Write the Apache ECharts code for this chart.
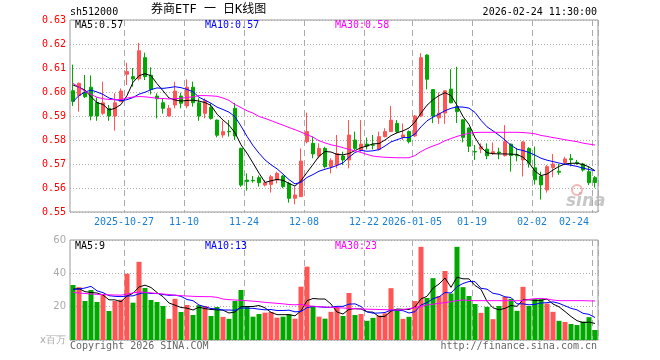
<!DOCTYPE html>
<html><head><meta charset="utf-8">
<script src="https://cdn.jsdelivr.net/npm/echarts@6/dist/echarts.min.js"></script>
<style>html,body{margin:0;padding:0;background:#fff}#c{width:660px;height:360px}</style>
</head><body><div id="c"></div>
<script>
const dates = [
'2025-10-14','2025-10-15','2025-10-16','2025-10-17',
'2025-10-20','2025-10-21','2025-10-22','2025-10-23','2025-10-24',
'2025-10-27','2025-10-28','2025-10-29','2025-10-30','2025-10-31',
'2025-11-03','2025-11-04','2025-11-05','2025-11-06','2025-11-07',
'2025-11-10','2025-11-11','2025-11-12','2025-11-13','2025-11-14',
'2025-11-17','2025-11-18','2025-11-19','2025-11-20','2025-11-21',
'2025-11-24','2025-11-25','2025-11-26','2025-11-27','2025-11-28',
'2025-12-01','2025-12-02','2025-12-03','2025-12-04','2025-12-05',
'2025-12-08','2025-12-09','2025-12-10','2025-12-11','2025-12-12',
'2025-12-15','2025-12-16','2025-12-17','2025-12-18','2025-12-19',
'2025-12-22','2025-12-23','2025-12-24','2025-12-25','2025-12-26',
'2025-12-29','2025-12-30','2025-12-31',
'2026-01-05','2026-01-06','2026-01-07','2026-01-08','2026-01-09',
'2026-01-12','2026-01-13','2026-01-14','2026-01-15','2026-01-16',
'2026-01-19','2026-01-20','2026-01-21','2026-01-22','2026-01-23',
'2026-01-26','2026-01-27','2026-01-28','2026-01-29','2026-01-30',
'2026-02-02','2026-02-03','2026-02-04','2026-02-05','2026-02-06',
'2026-02-09','2026-02-10','2026-02-11','2026-02-12','2026-02-13',
'2026-02-24'];

const opens = [0.6005,0.5985,0.6000,0.6020,0.5956,0.5911,0.5932,0.5900,0.5960,0.6074,
0.6064,0.6055,0.6143,0.6070,0.5983,0.5955,0.5900,0.5946,0.5983,0.5942,
0.6020,0.5955,0.5911,0.5936,0.5883,0.5821,0.5836,0.5932,0.5765,0.5633,
0.5632,0.5643,0.5612,0.5615,0.5633,0.5650,0.5619,0.5557,0.5564,0.5793,
0.5786,0.5733,0.5765,0.5689,0.5696,0.5733,0.5717,0.5800,0.5758,0.5783,
0.5780,0.5761,0.5814,0.5835,0.5869,0.5811,0.5835,0.5817,0.5900,0.6154,
0.6010,0.5892,0.5912,0.6012,0.5940,0.5884,0.5850,0.5752,0.5762,0.5762,
0.5744,0.5750,0.5735,0.5783,0.5737,0.5717,0.5765,0.5684,0.5650,0.5592,
0.5685,0.5670,0.5706,0.5722,0.5707,0.5700,0.5668,0.5643];
const closes = [0.5961,0.6036,0.5980,0.5900,0.5900,0.5955,0.5900,0.5955,0.6004,0.6085,
0.6054,0.6172,0.6064,0.6010,0.5972,0.5932,0.5932,0.6004,0.5953,0.6020,
0.5955,0.5900,0.5964,0.5890,0.5820,0.5835,0.5834,0.5817,0.5612,0.5627,
0.5630,0.5622,0.5622,0.5647,0.5661,0.5606,0.5557,0.5571,0.5712,0.5835,
0.5742,0.5765,0.5689,0.5714,0.5744,0.5717,0.5821,0.5765,0.5783,0.5775,
0.5778,0.5814,0.5835,0.5883,0.5835,0.5821,0.5793,0.5900,0.6143,0.6053,
0.5900,0.5912,0.6005,0.5955,0.5918,0.5811,0.5774,0.5750,0.5772,0.5734,
0.5751,0.5746,0.5793,0.5735,0.5734,0.5792,0.5703,0.5634,0.5613,0.5689,
0.5700,0.5666,0.5721,0.5718,0.5704,0.5675,0.5622,0.5623];
const lows = [0.5942,0.5918,0.5975,0.5882,0.5880,0.5905,0.5880,0.5839,0.5958,0.6029,
0.6022,0.6048,0.6050,0.5990,0.5890,0.5910,0.5898,0.5932,0.5932,0.5932,
0.5939,0.5880,0.5890,0.5885,0.5811,0.5810,0.5814,0.5800,0.5605,0.5589,
0.5622,0.5606,0.5606,0.5581,0.5619,0.5599,0.5539,0.5532,0.5564,0.5786,
0.5724,0.5724,0.5682,0.5661,0.5682,0.5696,0.5682,0.5758,0.5751,0.5761,
0.5761,0.5756,0.5811,0.5835,0.5828,0.5800,0.5786,0.5812,0.5895,0.6011,
0.5870,0.5867,0.5867,0.5953,0.5871,0.5790,0.5750,0.5717,0.5745,0.5720,
0.5738,0.5720,0.5731,0.5668,0.5711,0.5648,0.5685,0.5614,0.5552,0.5581,
0.5645,0.5655,0.5695,0.5690,0.5697,0.5668,0.5612,0.5602];
const highs = [0.6114,0.6040,0.6071,0.6069,0.5978,0.6043,0.5946,0.5995,0.6015,0.6122,
0.6100,0.6205,0.6164,0.6103,0.5995,0.5974,0.5946,0.6043,0.5997,0.6053,
0.6043,0.5974,0.5974,0.5953,0.5885,0.5880,0.5883,0.5955,0.5768,0.5661,
0.5650,0.5652,0.5633,0.5654,0.5668,0.5654,0.5626,0.5606,0.5765,0.5914,
0.5814,0.5786,0.5772,0.5724,0.5821,0.5751,0.5883,0.5835,0.5883,0.5810,
0.5821,0.5835,0.5849,0.5942,0.5883,0.5869,0.5840,0.5904,0.6162,0.6157,
0.6012,0.5998,0.6008,0.6095,0.6105,0.5886,0.5852,0.5779,0.5786,0.5786,
0.5790,0.5768,0.5862,0.5785,0.5766,0.5795,0.5770,0.5773,0.5668,0.5696,
0.5742,0.5700,0.5730,0.5742,0.5717,0.5705,0.5689,0.5650];

const ma5 = [0.6029,0.6020,0.6008,0.5980,0.5956,0.5948,0.5925,0.5932,0.5948,0.5985,
0.6040,0.6068,0.6076,0.6068,0.6035,0.6005,0.5975,0.5967,0.5962,0.5965,
0.5966,0.5962,0.5956,0.5944,0.5908,0.5883,0.5862,0.5830,0.5780,0.5745,
0.5704,0.5662,0.5623,0.5630,0.5636,0.5632,0.5619,0.5608,0.5630,0.5665,
0.5698,0.5732,0.5752,0.5750,0.5740,0.5738,0.5744,0.5756,0.5768,0.5775,
0.5784,0.5785,0.5800,0.5818,0.5830,0.5838,0.5850,0.5875,0.5912,0.5945,
0.5968,0.5985,0.5997,0.5985,0.5945,0.5898,0.5865,0.5810,0.5770,0.5747,
0.5743,0.5742,0.5742,0.5741,0.5740,0.5728,0.5705,0.5670,0.5652,0.5658,
0.5675,0.5690,0.5700,0.5703,0.5703,0.5698,0.5688,0.5672];
const ma10 = [0.5960,0.5985,0.6000,0.6008,0.6000,0.5990,0.5975,0.5968,0.5964,0.5968,
0.5977,0.5991,0.5999,0.6010,0.6017,0.6015,0.6018,0.6022,0.6018,0.6011,
0.6001,0.5978,0.5966,0.5953,0.5937,0.5927,0.5916,0.5897,0.5858,0.5815,
0.5777,0.5745,0.5717,0.5697,0.5680,0.5658,0.5635,0.5617,0.5624,0.5644,
0.5656,0.5670,0.5678,0.5685,0.5694,0.5705,0.5728,0.5748,0.5757,0.5753,
0.5755,0.5760,0.5775,0.5792,0.5801,0.5810,0.5810,0.5825,0.5855,0.5880,
0.5895,0.5908,0.5922,0.5932,0.5938,0.5937,0.5933,0.5915,0.5882,0.5855,
0.5838,0.5820,0.5800,0.5778,0.5762,0.5756,0.5748,0.5737,0.5724,0.5716,
0.5710,0.5704,0.5699,0.5695,0.5690,0.5683,0.5677,0.5672];
const ma30 = [0.6036,0.6020,0.6003,0.5990,0.5978,0.5972,0.5969,0.5968,0.5969,0.5975,
0.5979,0.5981,0.5980,0.5977,0.5974,0.5973,0.5971,0.5972,0.5974,0.5977,
0.5980,0.5985,0.5985,0.5984,0.5982,0.5975,0.5965,0.5948,0.5935,0.5922,
0.5912,0.5898,0.5890,0.5881,0.5871,0.5862,0.5852,0.5843,0.5833,0.5822,
0.5812,0.5797,0.5788,0.5780,0.5775,0.5768,0.5761,0.5755,0.5748,0.5740,
0.5733,0.5730,0.5728,0.5727,0.5726,0.5726,0.5726,0.5735,0.5752,0.5765,
0.5775,0.5784,0.5797,0.5806,0.5815,0.5822,0.5828,0.5831,0.5832,0.5832,
0.5832,0.5832,0.5832,0.5832,0.5832,0.5831,0.5829,0.5826,0.5819,0.5815,
0.5810,0.5806,0.5801,0.5797,0.5793,0.5787,0.5783,0.5779];

const volumes = [33.0,31.7,23.4,30.0,22.8,27.0,17.4,23.4,24.2,39.8,
22.4,46.9,31.2,24.0,22.8,20.4,12.7,24.7,16.8,21.0,
15.0,20.9,20.4,14.4,19.8,13.9,12.7,23.4,30.0,20.4,
14.0,15.6,16.4,16.8,13.4,14.0,15.4,12.8,32.0,44.0,
20.4,14.0,12.8,16.9,19.7,14.4,28.2,15.0,15.6,11.5,
13.3,14.7,16.0,31.1,17.7,12.7,13.9,23.4,55.9,25.2,
37.1,26.4,41.4,27.9,55.9,31.7,26.4,21.6,16.3,19.9,
12.5,20.4,25.9,24.7,17.5,31.9,20.4,24.5,24.5,21.9,
16.9,11.5,10.8,9.6,9.0,11.1,13.7,6.0];
const volMa5 = [30.5,30.8,29.0,28.5,28.2,27.0,24.1,24.1,23.0,26.4,
28.0,31.8,32.9,31.5,28.5,26.0,22.2,20.9,19.5,19.1,
18.0,19.7,18.8,18.3,18.1,17.9,16.2,16.8,20.0,20.1,
20.1,20.7,19.3,16.6,15.2,15.2,15.2,14.5,17.5,23.6,
24.9,24.6,24.6,21.6,16.8,15.6,18.4,18.8,18.6,16.9,
16.7,14.0,14.2,17.3,18.6,18.4,18.3,19.8,24.7,26.2,
31.1,33.6,37.2,31.6,37.7,36.7,36.7,32.7,30.4,23.2,
19.3,18.1,19.0,20.7,20.2,24.1,24.1,23.8,23.8,24.6,
21.6,19.9,17.1,14.1,11.6,10.4,10.8,9.9];
const volMa10 = [30.4,30.6,31.2,32.2,29.5,28.4,26.6,26.2,26.0,26.4,
26.5,27.7,28.5,27.9,27.9,27.3,26.8,26.9,26.2,24.3,
23.6,21.0,19.9,18.9,18.6,18.0,18.0,17.8,19.2,19.1,
19.0,18.5,18.1,18.3,17.7,17.7,17.9,16.9,17.1,19.4,
20.1,19.9,19.6,19.6,20.2,20.2,21.5,21.7,20.1,16.9,
16.1,16.2,16.5,18.0,17.8,17.6,16.2,17.0,21.0,22.4,
24.8,25.9,28.5,28.2,32.0,33.9,35.1,35.0,31.0,30.5,
28.0,27.4,25.9,25.5,21.7,21.7,21.1,21.4,22.2,22.4,
22.9,22.0,20.5,19.0,18.1,16.0,15.4,13.5];
const volMa30 = [28.6,28.2,27.9,27.6,27.4,27.3,27.1,27.0,26.9,27.5,
28.3,28.8,28.6,28.3,27.9,27.6,27.3,26.9,26.6,26.4,
26.2,26.1,26.0,26.0,25.6,24.6,24.2,24.0,23.8,23.6,
23.3,23.0,22.6,22.3,22.0,21.7,21.3,21.1,21.4,20.5,
20.3,20.0,19.8,19.6,19.4,19.2,19.0,18.8,18.6,18.5,
18.4,18.3,18.2,18.1,18.0,18.2,18.8,19.5,20.2,21.0,
21.5,22.0,22.4,23.0,23.6,24.0,23.8,23.6,23.6,23.6,
23.6,23.6,23.6,23.6,23.6,23.6,24.4,24.8,25.0,24.6,
24.0,23.6,23.6,23.6,23.6,23.6,23.5,23.4];

const labelDates = ['2025-10-27','2025-11-10','2025-11-24','2025-12-08','2025-12-22','2026-01-05','2026-01-19','2026-02-02','2026-02-24'];
const labelTexts = ['2025-10-27','11-10','11-24','12-08','12-22','2026-01-05','01-19','02-02','02-24'];
const mainLegend = ['MA5:0.57','MA10:0.57','MA30:0.58'];
const volLegend = ['MA5:9','MA10:13','MA30:23'];
const legendColors = ['#000000','#0000ff','#ff00ff'];

const UP = '#ff5555', DOWN = '#00a800';
const MONO = '"DejaVu Sans Mono", monospace';
const labelIdx = labelDates.map(d => dates.indexOf(d));
const isLabel = (i) => labelIdx.indexOf(i) >= 0;

const kData = dates.map((d, i) => [opens[i], closes[i], lows[i], highs[i]]);

function xAxis(gi, showLabel) {
  return {
    type: 'category', gridIndex: gi, data: dates, boundaryGap: true,
    axisLine: {show: false}, axisTick: {show: false},
    splitLine: {show: true, interval: (i) => isLabel(i), lineStyle: {color: '#aaaaaa', type: [6, 4], width: 1}},
    axisLabel: showLabel ? {
      show: true, interval: (i) => isLabel(i),
      formatter: (v) => labelTexts[labelDates.indexOf(v)],
      color: '#1a7fd4', fontFamily: MONO, fontSize: 10, margin: 5,
      padding: [0, 6, 0, 0], alignMaxLabel: 'right'
    } : {show: false}
  };
}

function lineSeries(data, color, xi, yi) {
  return {type: 'line', data: data, xAxisIndex: xi, yAxisIndex: yi, symbol: 'none',
    silent: true, lineStyle: {color: color, width: 1}, itemStyle: {color: color}, z: 3};
}

const graphics = [];
const txt = (text, pos, color, size, font) => graphics.push(Object.assign({
  type: 'text', z: 10,
  style: {text: text, fill: color, font: (size || 10) + 'px ' + (font || MONO)}
}, pos));
txt('sh512000', {left: 70, top: 7}, '#000');
txt('券商ETF 一 日K线图', {left: 151, top: 4}, '#000', 12, '"DejaVu Sans Mono","Noto Sans CJK SC"');
txt('2026-02-24 11:30:00', {right: 63, top: 7}, '#000');
const legX = [75, 205, 335];
mainLegend.forEach((t, k) => txt(t, {left: legX[k], top: 20}, legendColors[k]));
volLegend.forEach((t, k) => txt(t, {left: legX[k], top: 241}, legendColors[k]));
txt('Copyright 2026 SINA.COM', {left: 70, top: 341}, '#666');
txt('http://finance.sina.com.cn', {right: 63, top: 341}, '#666');
graphics.push({type: 'text', left: 566, top: 193, z: 0,
  style: {text: 'sina', fill: 'rgba(175,175,175,0.7)', font: 'italic bold 17px "DejaVu Sans"'}});
graphics.push({type: 'circle', shape: {cx: 577, cy: 190, r: 5}, z: 0,
  style: {fill: 'none', stroke: 'rgba(240,150,150,0.7)', lineWidth: 2}});

const chart = echarts.init(document.getElementById('c'), null, {renderer: 'canvas'});
chart.setOption({
  animation: false,
  backgroundColor: '#ffffff',
  grid: [
    {left: 70, top: 20, width: 528, height: 192, show: true, borderColor: '#999', borderWidth: 1, backgroundColor: 'transparent'},
    {left: 70, top: 240, width: 528, height: 100, show: true, borderColor: '#999', borderWidth: 1, backgroundColor: 'transparent'}
  ],
  xAxis: [xAxis(0, true), xAxis(1, false)],
  yAxis: [
    {type: 'value', gridIndex: 0, min: 0.55, max: 0.63, interval: 0.01,
      axisLine: {show: false}, axisTick: {show: false},
      splitLine: {show: true, lineStyle: {color: '#aaaaaa', type: [1, 2], width: 1}},
      axisLabel: {color: '#ff0000', fontFamily: MONO, fontSize: 10, margin: 4, formatter: (v) => v.toFixed(2)}},
    {type: 'value', gridIndex: 1, min: 0, max: 60, interval: 20,
      axisLine: {show: false}, axisTick: {show: false},
      splitLine: {show: true, lineStyle: {color: '#aaaaaa', type: [1, 2], width: 1}},
      axisLabel: {color: '#aaaaaa', fontFamily: '"DejaVu Sans"', fontSize: 10, margin: 4,
        formatter: (v) => v === 0 ? 'x百万' : String(v)}}
  ],
  graphic: graphics,
  series: [
    {type: 'candlestick', xAxisIndex: 0, yAxisIndex: 0, data: kData, barWidth: 4, silent: true,
      itemStyle: {color: UP, color0: DOWN, borderColor: UP, borderColor0: DOWN, borderWidth: 1}},
    lineSeries(ma5, '#000000', 0, 0),
    lineSeries(ma10, '#0000ff', 0, 0),
    lineSeries(ma30, '#ff00ff', 0, 0),
    {type: 'bar', xAxisIndex: 1, yAxisIndex: 1, data: volumes, barWidth: 5, silent: true,
      itemStyle: {color: (p) => closes[p.dataIndex] >= opens[p.dataIndex] ? UP : DOWN}},
    lineSeries(volMa5, '#000000', 1, 1),
    lineSeries(volMa10, '#0000ff', 1, 1),
    lineSeries(volMa30, '#ff00ff', 1, 1)
  ]
});
</script></body></html>
